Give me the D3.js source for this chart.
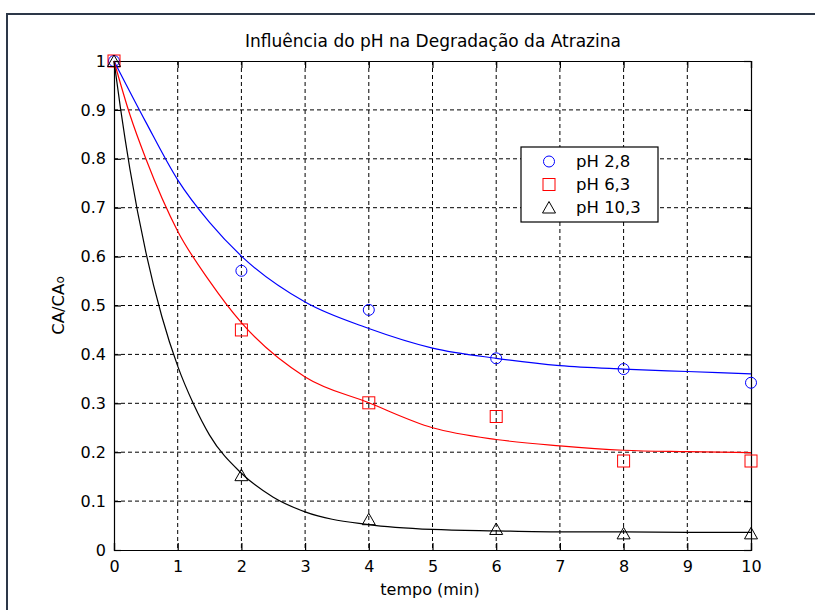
<!DOCTYPE html>
<html>
<head>
<meta charset="utf-8">
<script src="https://cdn.jsdelivr.net/npm/d3@7/dist/d3.min.js"></script>
<style>
  html, body { margin: 0; padding: 0; background: #fff; }
  svg { display: block; font-family: "DejaVu Sans", Verdana, sans-serif; }
  .grid line { stroke: #000; stroke-dasharray: 4,3; stroke-width: 1; }
</style>
</head>
<body>
<svg id="chart" width="815" height="610"></svg>
<script>
// measured samples (time in min, CA/CA0)
const sampleTimes = [0, 2, 4, 6, 8, 10];
const ph28Values = [1, 0.571, 0.491, 0.392, 0.370, 0.342];
const ph63Values = [1, 0.450, 0.301, 0.273, 0.182, 0.182];
const ph103Values = [1, 0.153, 0.063, 0.043, 0.034, 0.034];

// fitted curves
const fit28Times = [0, 0.5, 1, 1.5, 2, 3, 4, 5, 6, 7, 8, 9, 10];
const fit28Values = [1, 0.875, 0.757, 0.67, 0.601, 0.507, 0.453, 0.413, 0.392, 0.377, 0.370, 0.365, 0.360];
const fit63Times = [0, 0.25, 0.5, 1, 1.5, 2, 3, 4, 5, 6, 7, 8, 9, 10];
const fit63Values = [1, 0.89, 0.80, 0.652, 0.55, 0.465, 0.354, 0.301, 0.25, 0.226, 0.213, 0.204, 0.201, 0.199];
const fit103Times = [0, 0.1, 0.25, 0.5, 0.75, 1, 1.25, 1.5, 2, 2.5, 3, 4, 5, 6, 7, 8, 9, 10];
const fit103Values = [1, 0.905, 0.779, 0.609, 0.478, 0.376, 0.298, 0.235, 0.157, 0.108, 0.078, 0.052, 0.042, 0.039, 0.037, 0.037, 0.036, 0.036];

const xTicks = [0, 1, 2, 3, 4, 5, 6, 7, 8, 9, 10];
const yTicks = [0, 0.1, 0.2, 0.3, 0.4, 0.5, 0.6, 0.7, 0.8, 0.9, 1];
const seriesNames = ['pH 2,8', 'pH 6,3', 'pH 10,3'];
const seriesColors = ['#0000ff', '#ff0000', '#000000'];
const seriesSymbols = ['circle', 'square', 'triangle'];

const titleText = 'Influência do pH na Degradação da Atrazina';
const xLabelText = 'tempo (min)';
const yLabelMain = 'CA/CA';
const yLabelSub = 'o';

const svg = d3.select('#chart');
const W = 815, H = 610;
const plot = { left: 114, right: 751, top: 61, bottom: 550 };
const TICK = 7;

// figure frame (runs off the right and bottom edge)
svg.append('rect').attr('x', 7).attr('y', 14).attr('width', W + 20).attr('height', H + 20)
    .attr('fill', '#fff').attr('stroke', '#2d3848').attr('stroke-width', 2);

const x = d3.scaleLinear().domain([0, 10]).range([plot.left, plot.right]);
const y = d3.scaleLinear().domain([0, 1]).range([plot.bottom, plot.top]);

// grid
const grid = svg.append('g').attr('class', 'grid');
grid.selectAll('line.vx').data(xTicks.slice(1, -1)).join('line')
    .attr('x1', d => x(d)).attr('x2', d => x(d))
    .attr('y1', plot.top).attr('y2', plot.bottom);
grid.selectAll('line.hy').data(yTicks.slice(1, -1)).join('line')
    .attr('x1', plot.left).attr('x2', plot.right)
    .attr('y1', d => y(d)).attr('y2', d => y(d));

// axes: ticks point inward, box on
const axisBottom = svg.append('g').attr('transform', `translate(0,${plot.bottom})`)
    .call(d3.axisBottom(x).tickValues(xTicks).tickSize(-TICK).tickPadding(TICK + 4).tickFormat(d3.format('d')));
const axisTop = svg.append('g').attr('transform', `translate(0,${plot.top})`)
    .call(d3.axisTop(x).tickValues(xTicks).tickSize(-TICK).tickFormat(''));
const axisLeft = svg.append('g').attr('transform', `translate(${plot.left},0)`)
    .call(d3.axisLeft(y).tickValues(yTicks).tickSize(-TICK).tickPadding(TICK + 1).tickFormat(d => d3.format('~g')(d)));
const axisRight = svg.append('g').attr('transform', `translate(${plot.right},0)`)
    .call(d3.axisRight(y).tickValues(yTicks).tickSize(-TICK).tickFormat(''));

[axisBottom, axisTop, axisLeft, axisRight].forEach(g => {
    g.select('.domain').attr('stroke', '#000').attr('stroke-width', 1.2);
    g.selectAll('.tick line').attr('stroke', '#000').attr('stroke-width', 1.2);
    g.selectAll('.tick text').attr('fill', '#000').style('font-size', '16px')
        .style('font-family', '"DejaVu Sans", Verdana, sans-serif');
});

// symbol drawing
function drawSymbol(g, kind, cx, cy, color) {
    if (kind === 'circle') {
        g.append('circle').attr('cx', cx).attr('cy', cy).attr('r', 5.5)
            .attr('fill', 'none').attr('stroke', color).attr('stroke-width', 1);
    } else if (kind === 'square') {
        g.append('rect').attr('x', cx - 6).attr('y', cy - 6).attr('width', 12).attr('height', 12)
            .attr('fill', 'none').attr('stroke', color).attr('stroke-width', 1);
    } else {
        g.append('path').attr('d', `M${cx},${cy - 6}L${cx + 6.5},${cy + 5.5}L${cx - 6.5},${cy + 5.5}Z`)
            .attr('fill', 'none').attr('stroke', color).attr('stroke-width', 1);
    }
}

const line = d3.line().x(d => x(d[0])).y(d => y(d[1])).curve(d3.curveMonotoneX);

const fits = [
    d3.zip(fit28Times, fit28Values),
    d3.zip(fit63Times, fit63Values),
    d3.zip(fit103Times, fit103Values)
];
const samples = [ph28Values, ph63Values, ph103Values];

const dataLayer = svg.append('g');
samples.forEach((vals, i) => {
    const g = dataLayer.append('g');
    vals.forEach((v, j) => drawSymbol(g, seriesSymbols[i], x(sampleTimes[j]), y(v), seriesColors[i]));
});
fits.forEach((pts, i) => {
    dataLayer.append('path').datum(pts).attr('d', line)
        .attr('fill', 'none').attr('stroke', seriesColors[i]).attr('stroke-width', 1.2);
});

// legend
const legend = svg.append('g');
legend.append('rect').attr('x', 521).attr('y', 147).attr('width', 137).attr('height', 75)
    .attr('fill', '#fff').attr('stroke', '#000').attr('stroke-width', 1.2);
seriesNames.forEach((name, i) => {
    const ry = 161.5 + i * 23;
    drawSymbol(legend, seriesSymbols[i], 549, ry, seriesColors[i]);
    legend.append('text').attr('x', 576).attr('y', ry).attr('dy', '0.36em')
        .style('font-size', '16.5px').text(name);
});

// titles
svg.append('text').attr('x', 433).attr('y', 47)
    .attr('text-anchor', 'middle').style('font-size', '17px').text(titleText);
svg.append('text').attr('x', 430).attr('y', 595)
    .attr('text-anchor', 'middle').style('font-size', '16px').text(xLabelText);
const yl = svg.append('text').attr('transform', `translate(64,${(plot.top + plot.bottom) / 2}) rotate(-90)`)
    .attr('text-anchor', 'middle').style('font-size', '16.5px');
yl.append('tspan').text(yLabelMain);
yl.append('tspan').style('font-size', '12px').text(yLabelSub);
</script>
</body>
</html>
